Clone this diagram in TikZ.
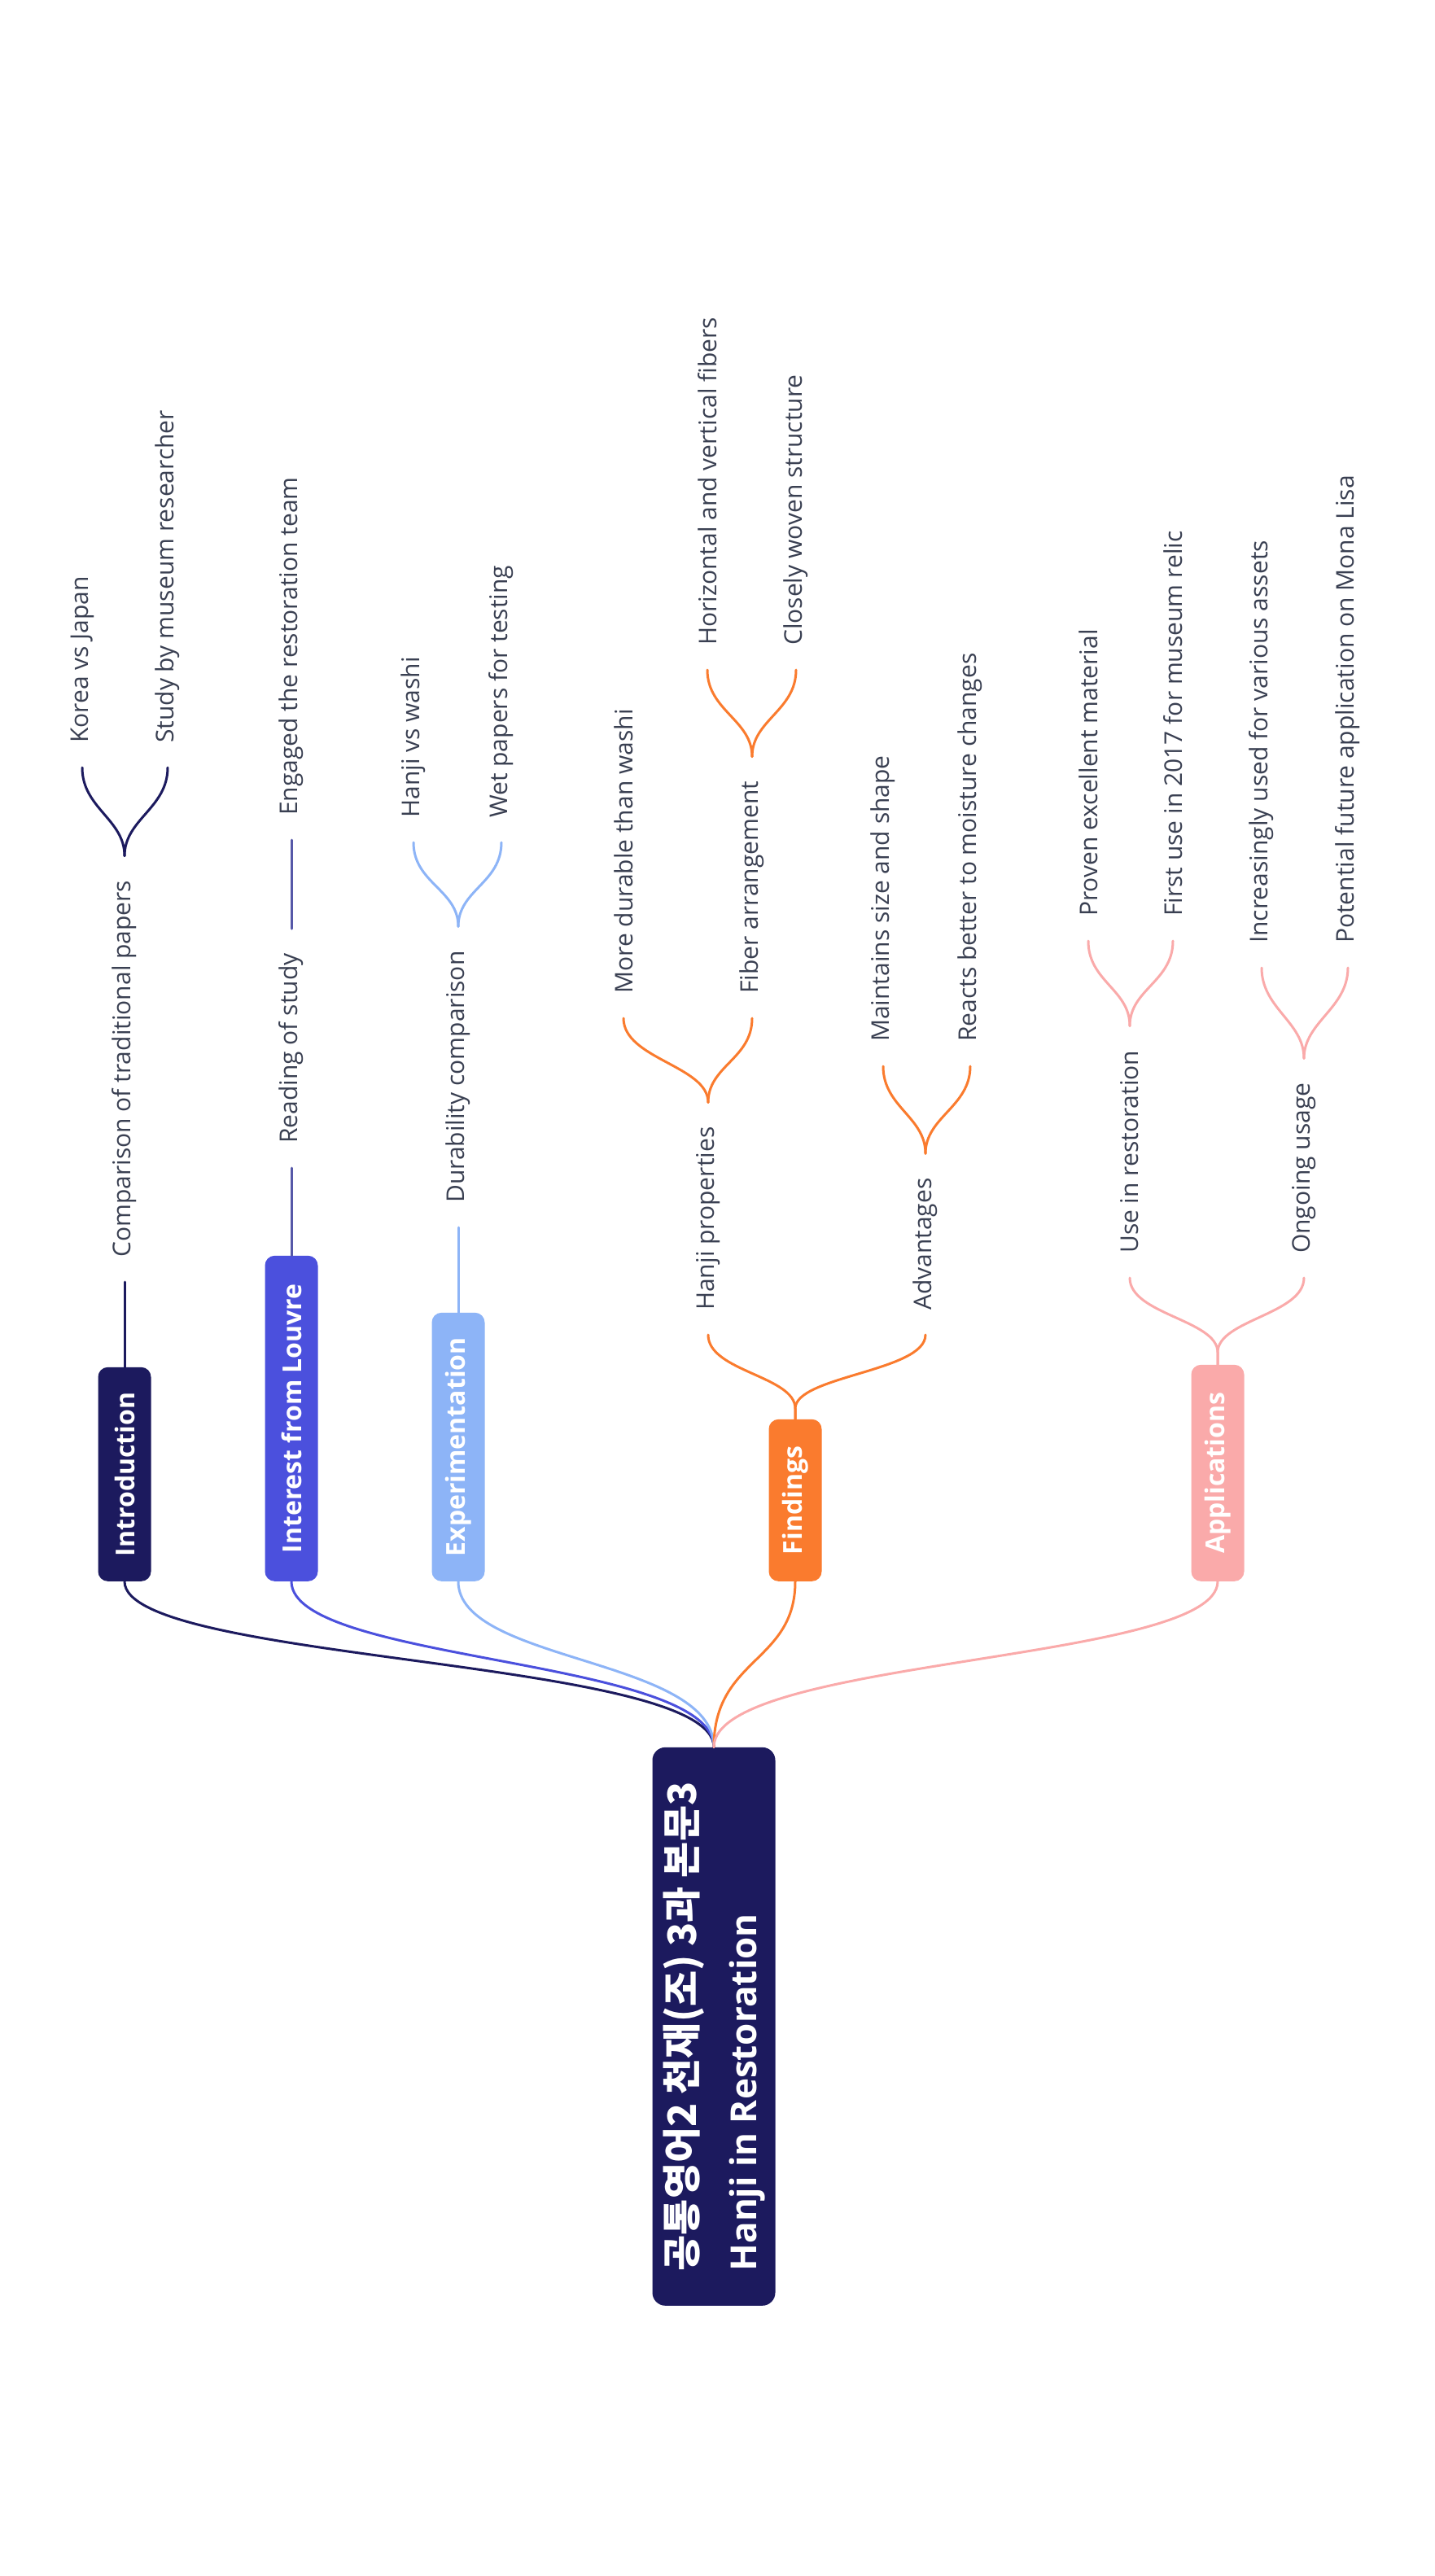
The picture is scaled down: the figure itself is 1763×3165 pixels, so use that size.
\documentclass[tikz,border=0pt]{standalone}
\usepackage{fontspec}
\setmainfont{Open Sans}
\newfontfamily\krfont{Noto Sans CJK KR}

\definecolor{navy}{RGB}{28,26,94}
\definecolor{louvre}{RGB}{75,80,221}
\definecolor{louvreline}{RGB}{86,88,168}
\definecolor{sky}{RGB}{141,180,247}
\definecolor{carrot}{RGB}{250,123,46}
\definecolor{blush}{RGB}{250,170,170}
\definecolor{inkgray}{RGB}{58,64,82}

\begin{document}
\begin{tikzpicture}[x=1pt, y=-1pt,
  topic/.style={rotate=90, anchor=west, text=white, rounded corners=12pt,
    minimum height=65pt, inner xsep=0pt, font=\fontsize{32}{38}\selectfont\bfseries},
  leaf/.style={rotate=90, anchor=west, text=inkgray, inner xsep=30pt, inner ysep=4pt,
    font=\fontsize{30}{36}\selectfont},
  twig/.style={line width=3pt, line cap=round}]
  \fill [white] (0,0) rectangle (1763,3165);
  \useasboundingbox (0,0) rectangle (1763,3165);

  \node (root) at (877,2833) [rotate=90, anchor=west, fill=navy, text=white,
    rounded corners=16pt, minimum width=686pt, minimum height=151pt, inner xsep=28pt,
    align=left, font=\fontsize{44}{74}\selectfont\bfseries]
    {{\krfont\bfseries\fontsize{48}{74}\selectfont 공통영어2 천재(조) 3과 본문3}\\Hanji in Restoration};

  \node (intro) at (153,1943) [topic, fill=navy, minimum width=263pt] {Introduction};
  \node (louvre) at (358,1943) [topic, fill=louvre, minimum width=400pt] {Interest from Louvre};
  \node (exper) at (563,1943) [topic, fill=sky, minimum width=330pt] {Experimentation};
  \node (find) at (977,1943) [topic, fill=carrot, minimum width=199pt] {Findings};
  \node (appl) at (1496,1943) [topic, fill=blush, minimum width=266pt] {Applications};

  \node (cmp) at (153,1575) [leaf] {Comparison of traditional papers};
  \node (kvj) at (101,943) [leaf] {Korea vs Japan};
  \node (smr) at (206,943) [leaf] {Study by museum researcher};

  \node (ros) at (358,1435) [leaf] {Reading of study};
  \node (ert) at (358,1032) [leaf] {Engaged the restoration team};

  \node (dur) at (563,1508) [leaf] {Durability comparison};
  \node (hvw) at (508,1035) [leaf] {Hanji vs washi};
  \node (wet) at (616,1035) [leaf] {Wet papers for testing};

  \node (hp) at (870,1640) [leaf] {Hanji properties};
  \node (adv) at (1137,1640) [leaf] {Advantages};
  \node (mdw) at (766,1251) [leaf] {More durable than washi};
  \node (fa) at (924,1251) [leaf] {Fiber arrangement};
  \node (hvf) at (869,823) [leaf] {Horizontal and vertical fibers};
  \node (cws) at (978,823) [leaf] {Closely woven structure};
  \node (mss) at (1085,1310) [leaf] {Maintains size and shape};
  \node (rbm) at (1192,1310) [leaf] {Reacts better to moisture changes};

  \node (uir) at (1388,1570) [leaf] {Use in restoration};
  \node (ong) at (1602,1570) [leaf] {Ongoing usage};
  \node (pem) at (1337,1156) [leaf] {Proven excellent material};
  \node (fir) at (1441,1156) [leaf] {First use in 2017 for museum relic};
  \node (inc) at (1550,1189) [leaf] {Increasingly used for various assets};
  \node (pot) at (1656,1189) [leaf] {Potential future application on Mona Lisa};

  \draw [twig, navy] (root.east) .. controls +(0,-110) and +(0,100) .. (intro.west);
  \draw [twig, louvre] (root.east) .. controls +(0,-110) and +(0,100) .. (louvre.west);
  \draw [twig, sky] (root.east) .. controls +(0,-110) and +(0,100) .. (exper.west);
  \draw [twig, carrot] (root.east) .. controls +(0,-110) and +(0,100) .. (find.west);
  \draw [twig, blush] (root.east) .. controls +(0,-110) and +(0,100) .. (appl.west);

  \draw [twig, navy] (intro.east) -- (cmp.west);
  \draw [twig, navy] (cmp.east) .. controls +(0,-45) and +(0,50) .. (kvj.west);
  \draw [twig, navy] (cmp.east) .. controls +(0,-45) and +(0,50) .. (smr.west);

  \draw [twig, louvreline] (louvre.east) -- (ros.west);
  \draw [twig, louvreline] (ros.east) -- (ert.west);

  \draw [twig, sky] (exper.east) -- (dur.west);
  \draw [twig, sky] (dur.east) .. controls +(0,-45) and +(0,50) .. (hvw.west);
  \draw [twig, sky] (dur.east) .. controls +(0,-45) and +(0,50) .. (wet.west);

  \draw [twig, carrot] (find.east) -- ++(0,-13) .. controls +(0,-40) and +(0,45) .. (hp.west);
  \draw [twig, carrot] (find.east) -- ++(0,-13) .. controls +(0,-40) and +(0,45) .. (adv.west);
  \draw [twig, carrot] (hp.east) .. controls +(0,-45) and +(0,50) .. (mdw.west);
  \draw [twig, carrot] (hp.east) .. controls +(0,-45) and +(0,50) .. (fa.west);
  \draw [twig, carrot] (fa.east) .. controls +(0,-45) and +(0,50) .. (hvf.west);
  \draw [twig, carrot] (fa.east) .. controls +(0,-45) and +(0,50) .. (cws.west);
  \draw [twig, carrot] (adv.east) .. controls +(0,-45) and +(0,50) .. (mss.west);
  \draw [twig, carrot] (adv.east) .. controls +(0,-45) and +(0,50) .. (rbm.west);

  \draw [twig, blush] (appl.east) -- ++(0,-15) .. controls +(0,-40) and +(0,45) .. (uir.west);
  \draw [twig, blush] (appl.east) -- ++(0,-15) .. controls +(0,-40) and +(0,45) .. (ong.west);
  \draw [twig, blush] (uir.east) .. controls +(0,-45) and +(0,50) .. (pem.west);
  \draw [twig, blush] (uir.east) .. controls +(0,-45) and +(0,50) .. (fir.west);
  \draw [twig, blush] (ong.east) .. controls +(0,-45) and +(0,50) .. (inc.west);
  \draw [twig, blush] (ong.east) .. controls +(0,-45) and +(0,50) .. (pot.west);
\end{tikzpicture}
\end{document}
